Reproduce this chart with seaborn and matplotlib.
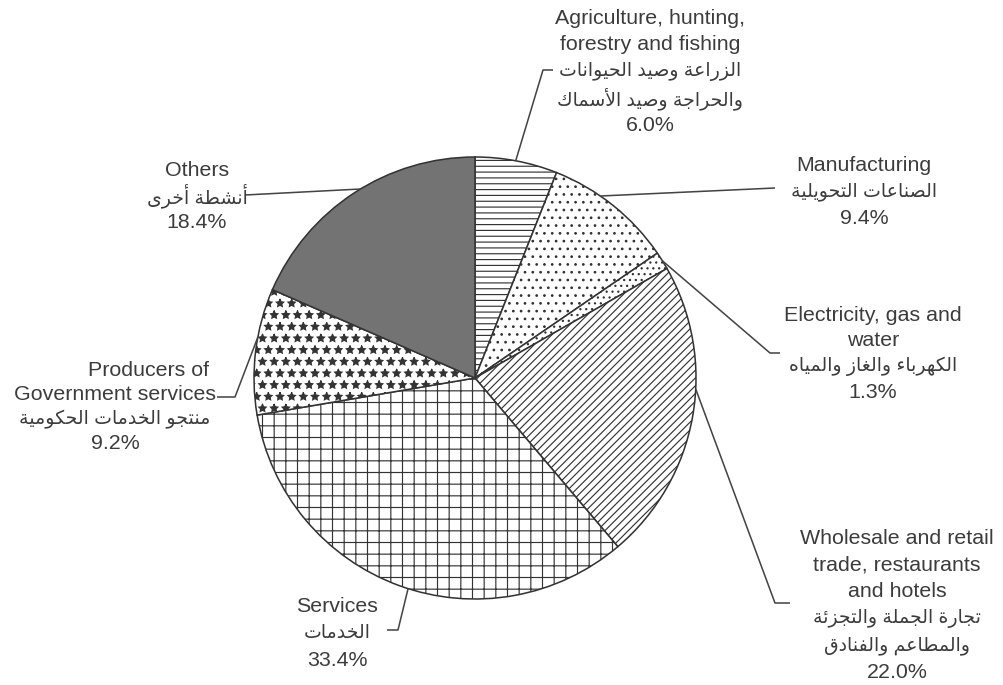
import matplotlib
matplotlib.use("Agg")
import matplotlib.pyplot as plt
import numpy as np
import seaborn as sns

# ---------------- data ----------------
sectors_en = [
    "Agriculture, hunting,\nforestry and fishing",
    "Manufacturing",
    "Electricity, gas and\nwater",
    "Wholesale and retail\ntrade, restaurants\nand hotels",
    "Services",
    "Producers of\nGovernment services",
    "Others",
]
sectors_ar = [
    "الزراعة وصيد الحيوانات\nوالحراجة وصيد الأسماك",
    "الصناعات التحويلية",
    "الكهرباء والغاز والمياه",
    "تجارة الجملة والتجزئة\nوالمطاعم والفنادق",
    "الخدمات",
    "منتجو الخدمات الحكومية",
    "أنشطة أخرى",
]
shares = [6.0, 9.4, 1.3, 22.0, 33.4, 9.2, 18.4]

# ---------------- minimal Arabic shaping ----------------
_DUAL = {'ئ': 0xFE89, 'ب': 0xFE8F, 'ت': 0xFE95, 'ث': 0xFE99, 'ج': 0xFE9D, 'ح': 0xFEA1,
         'خ': 0xFEA5, 'س': 0xFEB1, 'ش': 0xFEB5, 'ص': 0xFEB9, 'ض': 0xFEBD, 'ط': 0xFEC1,
         'ظ': 0xFEC5, 'ع': 0xFEC9, 'غ': 0xFECD, 'ف': 0xFED1, 'ق': 0xFED5, 'ك': 0xFED9,
         'ل': 0xFEDD, 'م': 0xFEE1, 'ن': 0xFEE5, 'ه': 0xFEE9, 'ي': 0xFEF1}
_RIGHT = {'آ': 0xFE81, 'أ': 0xFE83, 'ؤ': 0xFE85, 'إ': 0xFE87, 'ا': 0xFE8D, 'ة': 0xFE93,
          'د': 0xFEA9, 'ذ': 0xFEAB, 'ر': 0xFEAD, 'ز': 0xFEAF, 'و': 0xFEED, 'ى': 0xFEEF}
_NONE = {'ء': 0xFE80}
_LAMALEF = {'آ': 0xFEF5, 'أ': 0xFEF7, 'إ': 0xFEF9, 'ا': 0xFEFB}


def shape_line(s):
    toks = []
    i = 0
    while i < len(s):
        c = s[i]
        if c == 'ل' and i + 1 < len(s) and s[i + 1] in _LAMALEF:
            toks.append(('LA', s[i + 1]))
            i += 2
        else:
            toks.append(('C', c))
            i += 1

    def j_next(t):
        return t[0] == 'C' and t[1] in _DUAL

    def j_prev(t):
        return t[0] == 'LA' or t[1] in _DUAL or t[1] in _RIGHT

    out = []
    for k, t in enumerate(toks):
        prev = toks[k - 1] if k > 0 else None
        nxt = toks[k + 1] if k + 1 < len(toks) else None
        jp = prev is not None and j_next(prev) and j_prev(t)
        jn = nxt is not None and j_next(t) and j_prev(nxt)
        if t[0] == 'LA':
            out.append(chr(_LAMALEF[t[1]] + (1 if jp else 0)))
        elif t[1] in _DUAL:
            base = _DUAL[t[1]]
            idx = 3 if (jp and jn) else 2 if jn else 1 if jp else 0
            out.append(chr(base + idx))
        elif t[1] in _RIGHT:
            out.append(chr(_RIGHT[t[1]] + (1 if jp else 0)))
        elif t[1] in _NONE:
            out.append(chr(_NONE[t[1]]))
        else:
            out.append(t[1])
    return ''.join(reversed(out))


# ---------------- style ----------------
sns.set_theme(style="white")
plt.rcParams['font.family'] = ['Liberation Sans', 'DejaVu Sans']
plt.rcParams['hatch.linewidth'] = 0.6

W, H, DPI = 1003, 685, 140
fig = plt.figure(figsize=(W / DPI, H / DPI), dpi=DPI)
fig.patch.set_facecolor('white')
ax = fig.add_axes([0, 0, 1, 1])

edge = '#333333'
text_c = '#3c3c3c'
cx, cy, R = 475, H - 378, 221

wedges, _ = ax.pie(shares, startangle=90, counterclock=False, radius=R, center=(cx, cy),
                   wedgeprops=dict(edgecolor=edge, linewidth=0.8), frame=False)

fills = ['white', 'white', 'white', 'white', 'white', 'white', '#737373']
hatches = ['----', '...', '....', '//////', '++', '**', None]
for w, fc, h in zip(wedges, fills, hatches):
    w.set_facecolor(fc)
    w.set_edgecolor(edge)
    if h:
        w.set_hatch(h)

ax.set_xlim(0, W)
ax.set_ylim(0, H)
ax.set_aspect('auto')
ax.axis('off')

# ---------------- labels (layout in pixel space, y from top) ----------------
pct = [f"{v:.1f}%" for v in shares]
label_x = [650, 864, 873, 897, 337, 115, 197]
label_y0 = [18, 165, 315, 538, 607, 370, 170]
line_dy = [26.8, 26.5, 25.7, 26.8, 26.5, 24.5, 26]
anchor_frac = [0.49, 0.38, 0.5, 0.41, 0.48, 0.61, 0.53]
elbows = [
    [(543, 70), (553, 70)],
    [(775, 188)],
    [(770, 353), (780, 353)],
    [(775, 603), (790, 603)],
    [(398, 630), (387, 630)],
    [(235, 397), (217, 397)],
    [(245, 195)],
]
line_x_off = {5: {0: 34}}

for k in range(len(shares)):
    en = sectors_en[k].split('\n')
    ar = [shape_line(s) for s in sectors_ar[k].split('\n')]
    lines = [(s, 11) for s in en] + [(s, 9.7) for s in ar] + [(pct[k], 11)]
    for j, (s, fs) in enumerate(lines):
        xo = line_x_off.get(k, {}).get(j, 0)
        ax.text(label_x[k] + xo, H - (label_y0[k] + j * line_dy[k]), s,
                ha='center', va='center', fontsize=fs, color=text_c)
    w = wedges[k]
    ang = np.deg2rad(w.theta2 - anchor_frac[k] * (w.theta2 - w.theta1))
    px = [cx + R * np.cos(ang)] + [p[0] for p in elbows[k]]
    py = [cy + R * np.sin(ang)] + [H - p[1] for p in elbows[k]]
    ax.plot(px, py, color='#444444', linewidth=0.8, solid_capstyle='butt')

fig.savefig('out.png', dpi=DPI, facecolor='white')
